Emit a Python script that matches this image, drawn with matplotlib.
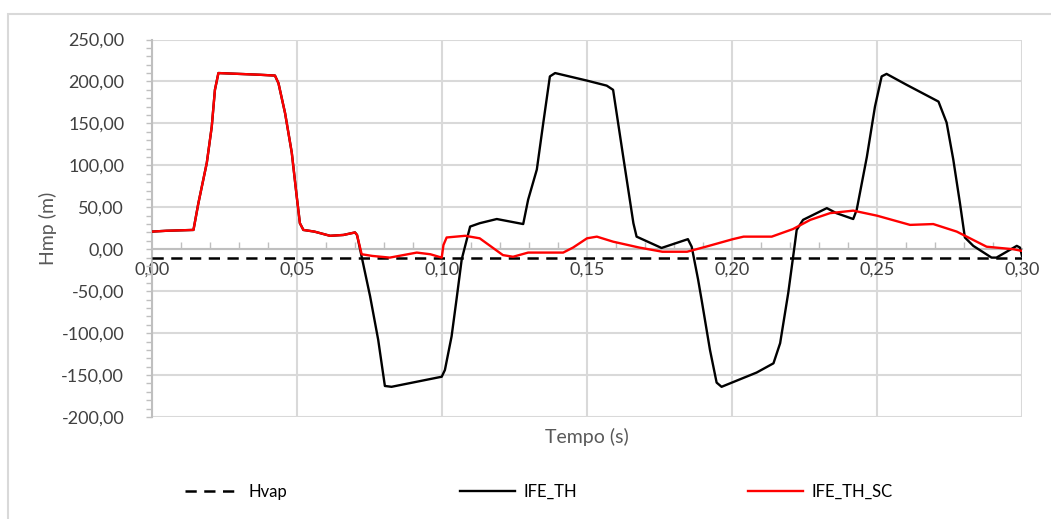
import numpy as np
import matplotlib
matplotlib.use("Agg")
from matplotlib import pyplot as plt
from matplotlib.patches import Rectangle
from matplotlib.ticker import MultipleLocator, FuncFormatter

# trecho inicial comum as duas simulacoes (curvas sobrepostas ate ~0,07 s)
tempoInicio = [0.000, 0.005, 0.0143, 0.0160, 0.0189, 0.0206, 0.0217, 0.0229, 0.030, 0.037,
               0.0424, 0.0436, 0.0459, 0.0482, 0.0499, 0.0510, 0.0522, 0.056, 0.0614, 0.066,
               0.0700, 0.0707]
hmpInicio = [21, 22, 23, 55, 103, 146, 190, 210, 209, 208,
             207, 198, 162, 115, 63, 31, 23, 21, 16, 17,
             20, 17]

# IFE_TH
tempoTH = [0.0723, 0.0752, 0.078, 0.0803, 0.0826, 0.0999, 0.101, 0.1033, 0.105, 0.1068,
           0.1097, 0.113, 0.1189, 0.128, 0.1297, 0.1327, 0.1349, 0.1372, 0.139, 0.150,
           0.1568, 0.159, 0.1625, 0.166, 0.1671, 0.1757, 0.1848, 0.1861, 0.1883, 0.1895,
           0.1924, 0.1947, 0.1964, 0.2028, 0.2085, 0.2143, 0.2166, 0.2194, 0.2217, 0.2223,
           0.2245, 0.2327, 0.236, 0.2418, 0.243, 0.2465, 0.2493, 0.2516, 0.2533, 0.2602,
           0.2712, 0.274, 0.2763, 0.2786, 0.2803, 0.2832, 0.2895, 0.2912, 0.2982, 0.2993,
           0.300]
hmpTH = [-9, -56, -108, -163, -164, -152, -144, -104, -60, -12,
         27, 31, 36, 30, 59, 95, 150, 206, 210, 201,
         195, 190, 110, 31, 15, 1.5, 12, 3, -36, -60,
         -120, -159, -164, -155, -147, -136, -112, -52, 7, 23,
         35, 49, 43, 36, 47, 110, 170, 206, 209, 196,
         176, 151, 107, 55, 14, 4, -10, -10, 4, 2,
         -8]

# IFE_TH_SC
tempoSC = [0.0723, 0.0760, 0.082, 0.0913, 0.0960, 0.0999, 0.1005, 0.1016, 0.108, 0.113,
           0.121, 0.1245, 0.1297, 0.1418, 0.1452, 0.150, 0.1534, 0.159, 0.168, 0.176,
           0.1845, 0.191, 0.2003, 0.204, 0.2137, 0.221, 0.227, 0.2338, 0.2418, 0.250,
           0.2614, 0.2694, 0.2775, 0.2878, 0.297, 0.300]
hmpSC = [-6, -8, -10, -4, -6, -10, 5, 14, 16, 13,
         -7, -9, -4, -4, 2, 13, 15, 9, 2, -3,
         -3, 3, 12, 15, 15, 24, 35, 43, 46, 40,
         29, 30, 21, 3, 0, -2]

hvap = -10.0

corTexto = "#595959"
corNumeros = "#404040"
corGrade = "#d9d9d9"
plt.rcParams["font.family"] = ["Lato", "DejaVu Sans"]

fig = plt.figure(figsize=(10.51, 5.19), dpi=100)
ax = fig.add_axes([152 / 1051, 1 - 417 / 519, 870 / 1051, 377.5 / 519])

# moldura externa do grafico
fig.patches.append(Rectangle((8 / 1051, -0.2), 1.2, 1.2 - 0.027, transform=fig.transFigure,
                             fill=False, edgecolor=corGrade, lw=1.5))

t_th = np.array(tempoInicio + tempoTH)
h_th = np.array(hmpInicio + hmpTH)
t_sc = np.array(tempoInicio + tempoSC)
h_sc = np.array(hmpInicio + hmpSC)

linhaVap, = ax.plot([0, 0.30], [hvap, hvap], color="black", lw=1.8, ls=(0, (4.5, 3.0)),
                    label="Hvap", zorder=3)
linhaTH, = ax.plot(t_th, h_th, color="black", lw=1.7, label="IFE_TH", zorder=4)
linhaSC, = ax.plot(t_sc, h_sc, color="#ff0000", lw=1.7, label="IFE_TH_SC", zorder=5)

ax.set_xlim(0, 0.30)
ax.set_ylim(-200, 250)

virgula = FuncFormatter(lambda v, p: "{:.2f}".format(v).replace(".", ","))
ax.xaxis.set_major_locator(MultipleLocator(0.05))
ax.xaxis.set_minor_locator(MultipleLocator(0.01))
ax.yaxis.set_major_locator(MultipleLocator(50))
ax.yaxis.set_minor_locator(MultipleLocator(10))
ax.xaxis.set_major_formatter(virgula)
ax.yaxis.set_major_formatter(virgula)

ax.grid(True, which="major", color=corGrade, lw=1.5)
ax.set_axisbelow(True)

for lado in ["top", "right"]:
    ax.spines[lado].set_visible(False)
ax.spines["bottom"].set_position(("data", 0))
ax.spines["bottom"].set_color("#bfbfbf")
ax.spines["left"].set_color("#bfbfbf")
ax.spines["bottom"].set_linewidth(1.5)
ax.spines["left"].set_linewidth(1.5)
ax.spines["bottom"].set_zorder(2)

ax.tick_params(axis="x", which="major", length=0, pad=9, labelsize=13, labelcolor=corNumeros)
ax.tick_params(axis="x", which="minor", direction="in", length=5, width=1, color="#bfbfbf")
ax.tick_params(axis="y", which="major", length=4, width=1, color="#bfbfbf", pad=16,
               labelsize=13, labelcolor=corNumeros)
ax.tick_params(axis="y", which="minor", length=4, width=1, color="#bfbfbf")

ax.text(0.5, -0.053, "Tempo (s)", transform=ax.transAxes, ha="center", va="center",
        fontsize=14, color=corTexto)
ax.text(-104 / 870, 0.5, "Hmp (m)", transform=ax.transAxes, ha="center", va="center",
        rotation=90, fontsize=14, color=corTexto)

# legenda em tres entradas espalhadas na parte de baixo
posLegenda = [(185, linhaVap), (460, linhaTH), (748, linhaSC)]
for xPix, linha in posLegenda:
    leg = fig.legend(handles=[linha], loc="center left",
                     bbox_to_anchor=(xPix / 1051, 1 - 492 / 519), frameon=False,
                     handlelength=3.3, handletextpad=0.5, borderpad=0, borderaxespad=0,
                     fontsize=12)
    for txt in leg.get_texts():
        txt.set_color("black")

fig.savefig("out.png", dpi=100)
